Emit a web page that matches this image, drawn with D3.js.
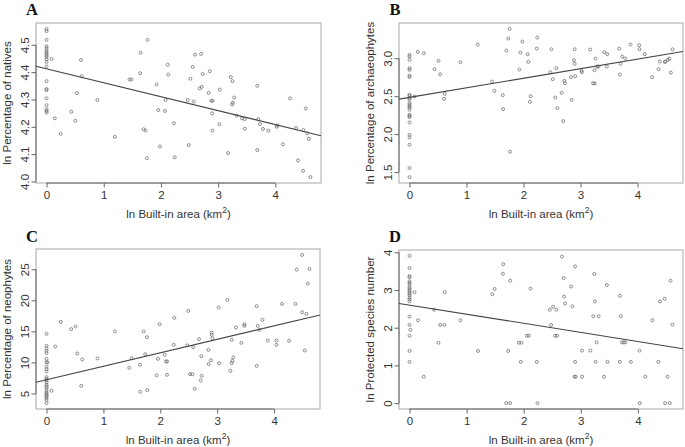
<!DOCTYPE html>
<html><head><meta charset="utf-8">
<script src="https://cdn.jsdelivr.net/npm/d3@7"></script>
<style>body{margin:0;background:#fff}svg{display:block}</style>
</head><body><svg id="c" width="685" height="447"></svg>
<script>
// ---------- data ----------
const xTicks = [0, 1, 2, 3, 4];
const xTitle = "ln Built-in area (km";

// Panel A: ln Percentage of natives
const natX = [0,0,0,0,0,0,0,0,0,0,0,0,0,0,0,0,0,0,0,0,0,
 0.088,0.146,0.246,0.433,0.503,0.532,0.602,0.614,0.889,1.193,1.45,1.485,1.637,1.643,1.766,1.696,1.731,1.754,1.924,1.953,1.982,2.07,2.082,2.117,2.129,2.228,2.24,
 2.596,2.702,2.556,2.515,2.731,2.854,2.678,2.713,2.836,3.029,2.468,2.573,2.883,2.9,2.895,2.9,3.023,2.485,3.175,3.222,3.251,3.281,3.246,3.257,3.322,3.415,3.468,3.462,
 3.684,3.702,3.731,3.784,3.877,3.684,4.023,4.035,4.133,4.257,4.363,4.398,4.491,4.532,4.485,4.556,4.585,4.614];
const natY = [4.558,4.55,4.518,4.495,4.488,4.479,4.473,4.467,4.461,4.455,4.447,4.437,4.421,4.367,4.338,4.334,4.304,4.279,4.264,4.258,4.252,
 4.448,4.231,4.174,4.255,4.222,4.323,4.444,4.385,4.298,4.163,4.373,4.373,4.396,4.471,4.518,4.191,4.186,4.085,4.355,4.261,4.128,4.258,4.298,4.427,4.391,4.213,4.088,
 4.464,4.467,4.419,4.376,4.393,4.403,4.34,4.346,4.324,4.336,4.298,4.292,4.295,4.295,4.249,4.186,4.209,4.133,4.104,4.382,4.367,4.307,4.282,4.288,4.241,4.231,4.193,4.228,
 4.35,4.228,4.21,4.192,4.186,4.115,4.2,4.205,4.136,4.304,4.195,4.077,4.188,4.267,4.039,4.176,4.156,4.016];
const natTicks = [4.0, 4.1, 4.2, 4.3, 4.4, 4.5];
const natFit = [4.412, -0.051];

// Panel B: ln Percentage of archaeophytes
const archX = [0,0,0,0,0,0,0,0,0,0,0,0,0,0,0,0,0,0,0,0,0,0,0,0,0,
 0.088,0.146,0.251,0.438,0.508,0.537,0.619,0.607,0.893,1.197,1.448,1.489,1.635,1.641,1.699,1.734,1.757,1.763,1.927,1.945,1.979,
 2.242,2.073,2.084,2.232,2.125,2.113,2.489,2.471,2.512,2.576,2.558,2.669,2.594,2.697,2.716,2.727,2.844,2.832,2.885,2.896,2.896,2.907,
 3.018,3.024,3.17,3.263,3.246,3.22,3.252,3.292,3.316,3.415,3.468,3.462,3.678,3.69,3.702,3.731,3.784,3.877,4.029,4.035,4.128,4.257,4.368,4.391,4.479,4.49,4.532,4.555,4.584,4.613];
const archY = [3.044,3.022,2.978,2.868,2.846,2.768,2.754,2.518,2.504,2.474,2.452,2.408,2.386,2.364,2.351,2.32,2.254,2.241,2.224,2.154,1.991,1.956,1.86,1.553,1.434,
 2.496,3.083,3.066,2.855,2.965,2.789,2.531,2.465,2.947,3.18,2.693,2.57,2.513,2.329,3.101,3.259,3.386,1.768,2.851,3.075,3.219,
 3.272,3.053,2.952,3.127,2.5,2.425,3.118,2.816,2.724,2.868,2.482,2.544,2.342,2.171,2.702,2.671,2.452,2.75,2.974,2.925,3.118,2.763,
 2.833,2.816,3.114,2.996,2.842,2.671,2.667,2.89,2.89,3.079,3.053,2.89,3.127,2.785,2.925,3.022,2.996,3.18,3.171,3.118,3.053,2.75,2.855,2.956,2.952,2.955,2.978,2.996,2.811,3.118];
const archTicks = [1.5, 2.0, 2.5, 3.0];
const archFit = [2.484, 0.1258];

// Panel C: ln Percentage of neophytes
const neoX = [0,0,0,0,0,0,0,0,0,0,0,0,0,0,0,0,0,0,0,0,0,0,0,0,0,
 0.018,0.088,0.152,0.252,0.434,0.51,0.54,0.61,0.628,0.897,1.202,1.455,1.496,1.648,1.642,1.707,1.765,1.736,1.771,1.935,1.959,1.988,2.076,2.1,2.12,2.246,2.235,2.117,
 2.493,2.68,2.58,2.522,2.563,2.474,2.604,2.727,2.71,2.721,2.845,2.85,2.891,2.903,2.903,2.915,3.026,3.032,3.179,3.232,3.255,3.255,3.267,3.284,3.331,3.425,3.478,3.478,
 3.695,3.695,3.713,3.742,3.795,3.888,4.041,4.041,4.141,4.264,4.375,4.399,4.493,4.493,4.54,4.569,4.592,4.622];
const neoY = [14.6,12.67,12.24,11.86,11.49,10.58,10.04,9.34,8.91,8.54,7.63,7.31,7.09,6.77,6.39,6.13,5.86,5.48,5.16,4.95,4.73,4.52,4.25,3.98,3.45,
 10.0,5.43,12.56,16.53,15.35,15.78,11.43,6.23,10.47,10.63,14.97,9.13,10.68,5.27,9.61,14.97,14.06,11.33,5.54,7.9,10.58,16.15,11.22,10.15,10.15,17.17,12.83,8.0,
 18.3,13.74,12.45,8.11,8.11,12.75,5.75,7.84,7.09,11.0,12.02,9.72,10.36,14.81,14.44,13.9,18.83,9.88,20.07,8.65,13.63,9.88,10.25,10.79,15.62,13.15,15.89,16.15,
 19.05,9.45,15.89,15.24,16.85,13.53,13.53,12.83,19.42,13.47,19.42,24.95,27.31,18.08,11.92,17.81,22.69,25.05];
const neoTicks = [5, 10, 15, 20, 25];
const neoFit = [7.2, 2.17];

// Panel D: ln Protected species number
const protX = [0,0,0,0,0,0,0,0,0,0,0,0,0,0,0,0,0,0,0,0,0,
 0.017,0.087,0.151,0.25,0.431,0.507,0.536,0.611,0.617,0.891,1.199,1.45,1.49,1.636,1.642,1.695,1.764,1.729,1.764,1.916,1.962,1.95,2.119,2.055,2.09,2.23,2.242,
 2.457,2.515,2.574,2.48,2.55,2.585,2.67,2.7,2.707,2.725,2.83,2.853,2.9,2.89,2.91,2.9,3.022,3.022,3.167,3.219,3.312,3.237,3.248,3.259,3.277,3.405,3.457,3.469,
 3.684,3.684,3.702,3.72,3.75,3.78,3.877,4.03,4.035,4.13,4.253,4.358,4.387,4.468,4.52,4.477,4.559,4.571,4.606];
const protY = [3.904,3.58,3.37,3.335,3.23,3.186,3.142,3.072,3.028,2.985,2.941,2.897,2.853,2.792,2.748,2.696,2.293,2.074,1.786,1.383,1.094,
 1.943,2.941,2.197,0.70,2.477,1.602,2.074,2.074,2.941,2.197,1.383,2.888,3.028,3.431,3.685,0,0,1.383,3.247,1.602,1.602,1.094,3.037,1.786,1.786,1.094,0,
 2.477,2.556,2.477,2.074,1.786,1.786,3.886,3.317,2.827,2.643,3.09,2.565,3.624,0.70,0.70,1.094,0.70,1.392,1.392,2.302,2.302,3.422,2.696,1.094,1.61,0.70,3.133,1.094,
 2.845,1.094,2.302,1.61,1.61,1.61,1.094,1.392,0,0.70,2.197,1.094,2.696,2.766,0.70,0,0,3.247,2.083];
const protTicks = [0, 1, 2, 3, 4];
const protFit = [2.598, -0.241];

// ---------- drawing ----------
const svg = d3.select("#c");
const SANS = "'Liberation Sans', Arial, sans-serif";

function rExtent(v) { // R default 4% axis extension
  const [mn, mx] = d3.extent(v); const e = (mx - mn) * 0.04; return [mn - e, mx + e];
}

function panel(o) {
  const g = svg.append("g");
  const xs = d3.scaleLinear().domain(rExtent(o.x)).range([o.l, o.r]);
  const ys = d3.scaleLinear().domain(rExtent(o.y)).range([o.b, o.t]);

  // box
  g.append("rect").attr("x", o.l).attr("y", o.t).attr("width", o.r - o.l).attr("height", o.b - o.t)
    .attr("fill", "none").attr("stroke", "#a8a8a8").attr("stroke-width", 1);

  // x axis
  const xa = g.append("g").attr("transform", `translate(0,${o.b})`)
    .call(d3.axisBottom(xs).tickValues(xTicks).tickSize(4.5).tickSizeOuter(0).tickFormat(d3.format("d")));
  xa.select(".domain").attr("d", `M${xs(xTicks[0])},0H${xs(xTicks[xTicks.length - 1])}`);
  xa.selectAll("line,path").attr("stroke", "#666");
  xa.selectAll("text").attr("y", 15.5).attr("dy", 0).attr("fill", "#333")
    .style("font-family", SANS).style("font-size", "11.5px");

  // y axis
  const ya = g.append("g").attr("transform", `translate(${o.l},0)`)
    .call(d3.axisLeft(ys).tickValues(o.ticks).tickSize(4.5).tickSizeOuter(0).tickFormat(o.fmt));
  ya.select(".domain").attr("d", `M0,${ys(o.ticks[0])}V${ys(o.ticks[o.ticks.length - 1])}`);
  ya.selectAll("line,path").attr("stroke", "#666");
  ya.selectAll("text").attr("x", null).attr("dy", 0).attr("text-anchor", "middle")
    .attr("transform", "translate(-7,0) rotate(-90)").attr("fill", "#333")
    .style("font-family", SANS).style("font-size", "11.5px");

  // points
  g.append("g").selectAll("circle").data(o.x.map((x, i) => [x, o.y[i]])).join("circle")
    .attr("cx", d => xs(d[0])).attr("cy", d => ys(d[1])).attr("r", 1.5)
    .attr("fill", "none").attr("stroke", "#6a6a6a").attr("stroke-width", 0.75);

  // regression line
  const dom = xs.domain();
  g.append("line").attr("x1", xs(dom[0])).attr("y1", ys(o.fit[0] + o.fit[1] * dom[0]))
    .attr("x2", xs(dom[1])).attr("y2", ys(o.fit[0] + o.fit[1] * dom[1]))
    .attr("stroke", "#444").attr("stroke-width", 1.1);

  // x title
  const xt = g.append("text").attr("x", (o.l + o.r) / 2).attr("y", o.b + 34.5).attr("text-anchor", "middle")
    .attr("fill", "#333").style("font-family", SANS).style("font-size", "11.5px");
  xt.append("tspan").text(xTitle);
  xt.append("tspan").attr("dy", -5).style("font-size", "8.5px").text("2");
  xt.append("tspan").attr("dy", 5).text(")");

  // y title
  g.append("text").attr("transform", `translate(${o.l - 25},${(o.t + o.b) / 2}) rotate(-90)`)
    .attr("text-anchor", "middle").attr("fill", "#333")
    .style("font-family", SANS).style("font-size", "11.5px").text(o.yTitle);

  // panel letter
  g.append("text").attr("x", o.lx).attr("y", o.ly).attr("fill", "#111")
    .style("font-family", "'Liberation Serif', 'Times New Roman', serif").style("font-weight", "bold")
    .style("font-size", "16.5px").text(o.letter);
}

panel({x: natX, y: natY, ticks: natTicks, fmt: d3.format(".1f"), fit: natFit,
  l: 36, r: 321, t: 23, b: 183, yTitle: "ln Percentage of natives", letter: "A", lx: 26, ly: 15});
panel({x: archX, y: archY, ticks: archTicks, fmt: d3.format(".1f"), fit: archFit,
  l: 399, r: 683, t: 23, b: 183, yTitle: "ln Percentage of archaeophytes", letter: "B", lx: 389.5, ly: 15});
panel({x: neoX, y: neoY, ticks: neoTicks, fmt: d3.format("d"), fit: neoFit,
  l: 36, r: 320, t: 249, b: 409, yTitle: "ln Percentage of neophytes", letter: "C", lx: 26, ly: 242});
panel({x: protX, y: protY, ticks: protTicks, fmt: d3.format("d"), fit: protFit,
  l: 399, r: 683, t: 250, b: 409, yTitle: "ln Protected species number", letter: "D", lx: 389, ly: 242});
</script>
</body></html>
